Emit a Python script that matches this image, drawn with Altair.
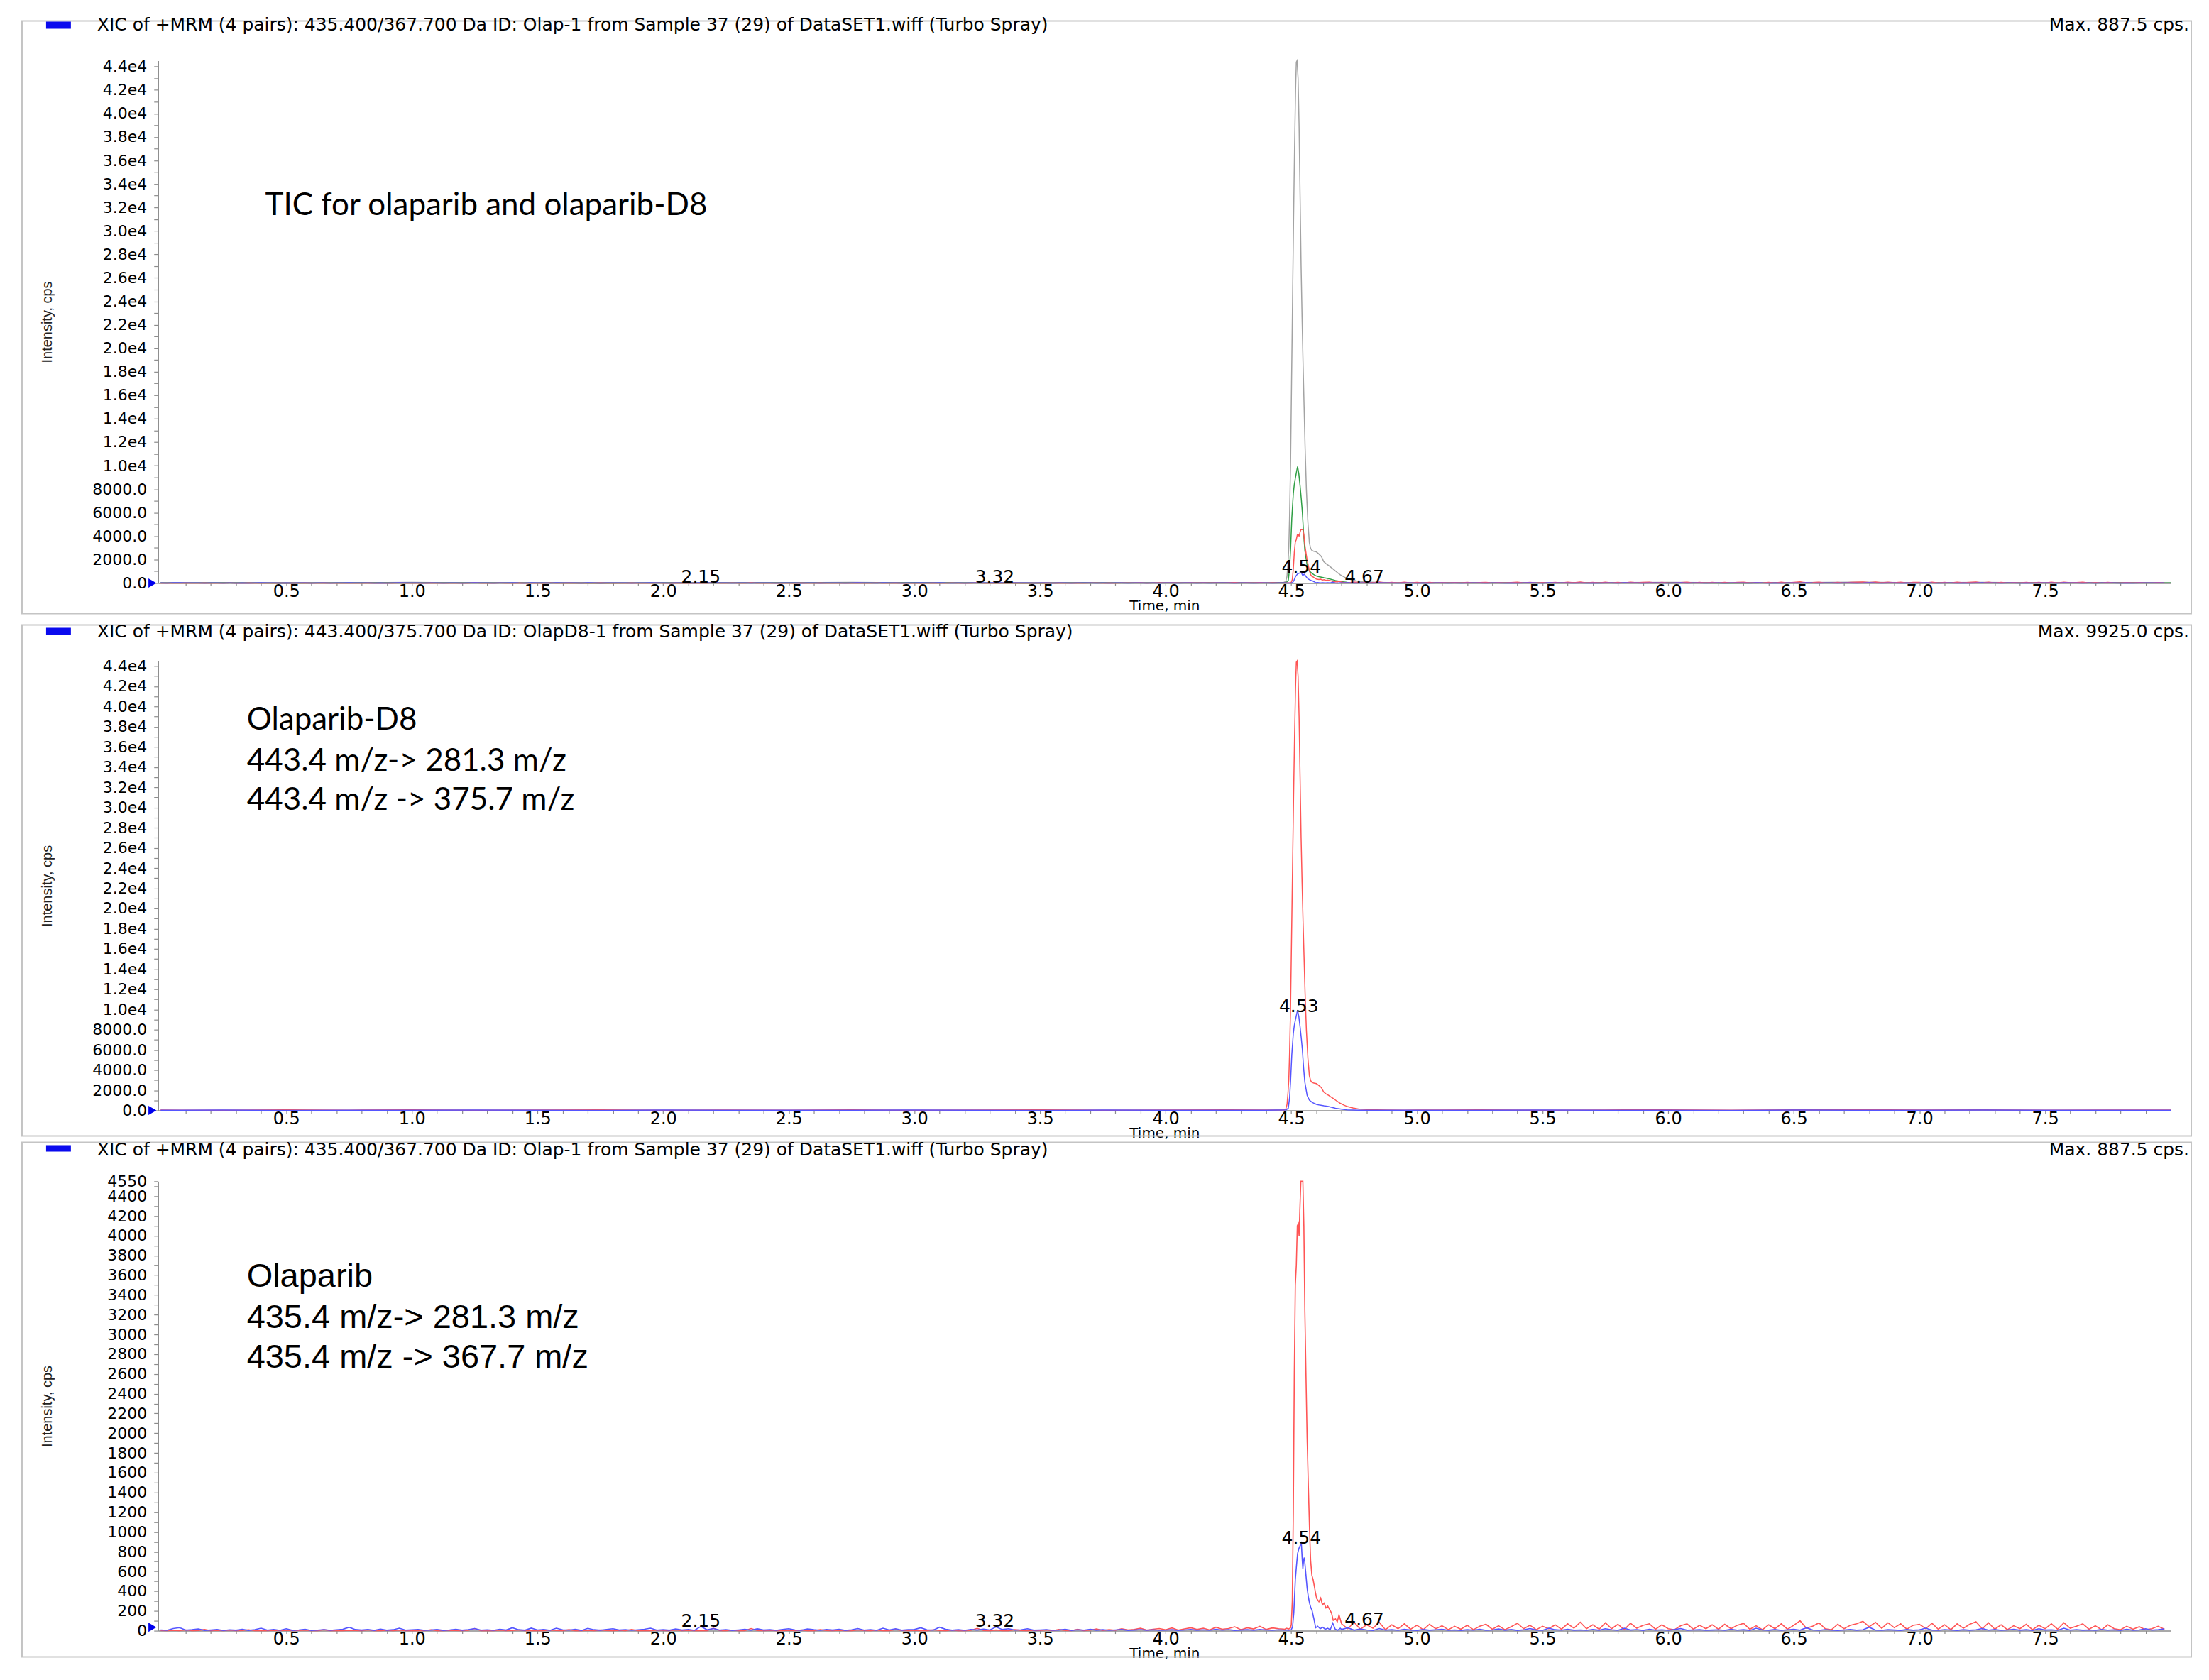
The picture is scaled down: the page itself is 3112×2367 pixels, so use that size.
import altair as alt
import pandas as pd

# ---------------- data ----------------
# 435.4 -> 367.7 (olaparib, blue in panel 3) : noise 0.000..4.475 every 0.025 min
olap367_pre = [
    8, 4, 22, 31, 6, 10, 18, 3, 7, 12, 2, 9, 5, 14, 3, 11, 25, 6, 13, 4,
    20, 3, 8, 15, 2, 6, 11, 4, 9, 14, 35, 12, 7, 12, 3, 16, 5, 10, 25, 6,
    9, 13, 4, 7, 12, 3, 8, 15, 5, 11, 22, 6, 9, 4, 14, 7, 30, 10, 5, 26,
    8, 12, 4, 25, 9, 6, 14, 3, 24, 10, 5, 13, 20, 7, 11, 4, 9, 15, 25, 6,
    10, 5, 18, 7, 12, 4, 43, 9, 22, 6, 11, 3, 8, 14, 5, 19, 7, 10, 4, 13,
    20, 8, 5, 18, 10, 4, 12, 7, 15, 3, 9, 22, 6, 11, 4, 25, 8, 20, 5, 10,
    12, 30, 9, 6, 35, 14, 5, 10, 4, 13, 7, 16, 8, 38, 12, 20, 6, 9, 20, 5,
    8, 11, 4, 7, 15, 3, 9, 6, 14, 5, 10, 4, 8, 12, 3, 7, 11, 5, 9, 4,
    6, 10, 3, 8, 12, 5, 9, 4, 14, 6, 11, 3, 7, 10, 5, 12, 8, 4, 9, 6,
]
olap367_peak_t = [4.480, 4.490, 4.500, 4.505, 4.510, 4.516, 4.520, 4.525, 4.530, 4.535, 4.540,
                  4.544, 4.546, 4.549, 4.552, 4.557, 4.563, 4.568, 4.573, 4.578, 4.582, 4.590,
                  4.597, 4.605, 4.615, 4.625, 4.635, 4.645, 4.655, 4.665, 4.675, 4.685, 4.695]
olap367_peak_v = [8, 5, 10, 40, 180, 516, 640, 780, 830, 860, 886,
                  700, 630, 720, 740, 600, 430, 340, 276, 230, 212, 120,
                  30, 45, 20, 35, 15, 25, 10, 76, 15, 5, 25]
# noise 4.700..7.975 every 0.025 min
olap367_post = [
    12, 30, 5, 18, 8, 3, 22, 6, 10, 4, 15, 7, 3, 12, 5, 9, 14, 4, 8, 3,
    10, 6, 15, 4, 8, 18, 5, 12, 3, 9, 22, 7, 4, 25, 10, 6, 14, 5, 8, 4,
    12, 5, 20, 9, 4, 25, 7, 11, 3, 15, 6, 9, 4, 12, 22, 5, 8, 10, 4, 7,
    9, 4, 14, 6, 10, 3, 25, 8, 5, 12, 4, 9, 15, 5, 30, 8, 4, 11, 6, 3,
    8, 12, 5, 9, 35, 6, 4, 10, 7, 3, 12, 5, 9, 25, 6, 4, 11, 8, 3, 10,
    5, 9, 22, 6, 12, 4, 8, 15, 5, 10, 3, 20, 7, 9, 4, 25, 6, 11, 5, 8,
    4, 12, 6, 9, 3, 15, 5, 8, 20, 6, 10, 18,
]

# 435.4 -> 281.3 (olaparib, red in panel 3)
olap281_pre = [
    2, 0, 5, 1, 8, 0, 3, 12, 0, 4, 1, 6, 0, 2, 9, 0, 3, 1, 5, 0,
    4, 0, 2, 7, 0, 1, 10, 0, 3, 0, 5, 2, 0, 8, 1, 0, 4, 0, 6, 1,
    0, 3, 0, 9, 1, 0, 5, 2, 0, 4, 22, 0, 3, 1, 6, 0, 2, 8, 0, 3,
    1, 0, 6, 2, 0, 10, 1, 0, 4, 0, 7, 2, 0, 5, 1, 12, 0, 3, 0, 6,
    2, 0, 8, 1, 4, 0, 3, 0, 25, 2, 0, 6, 1, 0, 22, 3, 0, 5, 1, 0,
    4, 0, 7, 1, 0, 10, 2, 0, 5, 1, 0, 8, 3, 0, 6, 1, 0, 12, 2, 0,
    5, 1, 0, 9, 2, 0, 6, 1, 0, 4, 24, 2, 0, 7, 1, 0, 10, 3, 0, 5,
    2, 8, 0, 12, 3, 1, 15, 0, 6, 18, 2, 10, 4, 20, 7, 12, 25, 5, 15, 22,
    10, 28, 6, 18, 30, 12, 25, 8, 35, 15, 22, 40, 10, 30, 18, 45, 12, 28, 20, 15,
]
olap281_peak_t = [4.480, 4.490, 4.497, 4.500, 4.504, 4.508, 4.512, 4.516, 4.520, 4.524, 4.528,
                  4.531, 4.534, 4.538, 4.541, 4.546, 4.550, 4.554, 4.559, 4.563, 4.568, 4.573,
                  4.577, 4.582, 4.587, 4.596, 4.601, 4.610, 4.617, 4.624, 4.631, 4.638, 4.645,
                  4.653, 4.660, 4.667, 4.676, 4.683, 4.690]
olap281_peak_v = [25, 18, 30, 60, 300, 1200, 2600, 3500, 3700, 4100, 4120,
                  4000, 4250, 4550, 4550, 4550, 4100, 3229, 2500, 1951, 1450, 995,
                  708, 560, 516, 389, 326, 294, 330, 262, 280, 230, 250,
                  214, 180, 105, 120, 90, 160]
olap281_post = [
    70, 20, 85, 15, 60, 25, 85, 10, 60, 20, 70, 15, 55, 10, 65, 20, 50, 10, 45, 15,
    55, 10, 45, 65, 15, 50, 10, 40, 75, 20, 55, 10, 45, 20, 60, 15, 70, 25, 85, 20,
    60, 15, 80, 20, 65, 10, 75, 25, 55, 70, 15, 60, 20, 10, 50, 70, 15, 55, 20, 60,
    15, 65, 20, 55, 75, 15, 50, 10, 60, 20, 70, 15, 55, 100, 25, 45, 80, 20, 10, 65,
    20, 55, 70, 95, 40, 85, 25, 80, 30, 70, 15, 55, 65, 20, 75, 15, 60, 10, 70, 25,
    65, 90, 20, 80, 15, 60, 10, 50, 20, 65, 10, 55, 20, 70, 15, 80, 25, 45, 70, 15,
    50, 10, 60, 20, 10, 45, 15, 40, 10, 20, 45, 15,
]

# 443.4 -> 281.3 (olaparib-D8, red in panel 2, grey in panel 1): baseline every 0.25 min
d8_281_pre = [30, 10, 45, 20, 60, 15, 35, 50, 10, 40, 25, 55, 15, 30, 45, 20, 35, 50]
d8_281_peak_t = [4.40, 4.470, 4.478, 4.483, 4.487, 4.490, 4.493, 4.497, 4.501, 4.505,
                 4.509, 4.513, 4.517, 4.520, 4.523, 4.527, 4.531, 4.535, 4.539, 4.543,
                 4.547, 4.551, 4.555, 4.560, 4.566, 4.572, 4.577, 4.582, 4.590, 4.600,
                 4.610, 4.620, 4.629, 4.638, 4.648, 4.657, 4.667, 4.680, 4.695, 4.710,
                 4.723, 4.745, 4.770, 4.800, 4.840, 4.880, 4.950]
d8_281_peak_v = [30, 60, 120, 600, 1800, 3000, 5500, 10000, 17000, 24000,
                 31000, 37000, 42000, 44380, 44500, 43000, 39000, 33000, 27000, 22500,
                 18500, 15000, 11500, 8000, 5200, 3440, 2950, 2790, 2700, 2650,
                 2470, 2250, 1820, 1650, 1500, 1350, 1180, 950, 700, 520,
                 380, 250, 120, 90, 60, 40, 20]
d8_281_post = [30, 50, 15, 40, 60, 25, 45, 70, 30, 55, 20, 40, 35]

# 443.4 -> 375.7 (olaparib-D8, blue in panel 2, green in panel 1)
d8_375_pre = [15, 30, 5, 25, 10, 35, 20, 5, 30, 15, 25, 10, 40, 20, 5, 30, 15, 25]
d8_375_peak_t = [4.40, 4.480, 4.488, 4.493, 4.497, 4.502, 4.508, 4.512, 4.516, 4.521,
                 4.525, 4.530, 4.535, 4.540, 4.544, 4.549, 4.554, 4.563, 4.572, 4.582,
                 4.591, 4.600, 4.610, 4.630, 4.648, 4.676, 4.700, 4.723, 4.770, 4.820]
d8_375_peak_v = [20, 60, 217, 1200, 2790, 5500, 7620, 8400, 8910, 9500,
                 9925, 9300, 8270, 7100, 6035, 4200, 2790, 1500, 1020, 820,
                 700, 600, 540, 450, 380, 217, 120, 55, 20, 10]
d8_375_post = [20, 10, 30, 15, 25, 5, 35, 20, 10, 30, 15, 25, 10]

headers = [
    ("XIC of +MRM (4 pairs): 435.400/367.700 Da ID: Olap-1 from Sample 37 (29) of DataSET1.wiff (Turbo Spray)", "Max. 887.5 cps."),
    ("XIC of +MRM (4 pairs): 443.400/375.700 Da ID: OlapD8-1 from Sample 37 (29) of DataSET1.wiff (Turbo Spray)", "Max. 9925.0 cps."),
    ("XIC of +MRM (4 pairs): 435.400/367.700 Da ID: Olap-1 from Sample 37 (29) of DataSET1.wiff (Turbo Spray)", "Max. 887.5 cps."),
]
notes1 = [(0.416, 32145, "TIC for olaparib and olaparib-D8")]
notes2 = [(0.343, 38600, "Olaparib-D8"), (0.343, 34530, "443.4 m/z-> 281.3 m/z"),
          (0.343, 30670, "443.4 m/z -> 375.7 m/z")]
notes3 = [(0.343, 3579, "Olaparib"), (0.343, 3164, "435.4 m/z-> 281.3 m/z"),
          (0.343, 2764, "435.4 m/z -> 367.7 m/z")]
peaks1 = [(2.15, 483, "2.15"), (3.32, 483, "3.32"), (4.54, 1330, "4.54")]
peaks1_r = [(4.67, 483, "4.67")]
peaks2 = [(4.53, 10316, "4.53")]
peaks2_r = []
peaks3 = [(2.15, 100, "2.15"), (3.32, 100, "3.32"), (4.54, 936, "4.54")]
peaks3_r = [(4.67, 110, "4.67")]

x_tick_values = [round(i / 10, 1) for i in range(1, 80)]
y_ticks_big = list(range(0, 44001, 1000))
y_ticks_small = list(range(0, 4501, 100)) + [4550]


def make_series(pre, pre_t0, pre_step, peak_t, peak_v, post, post_t0, post_step):
    t = [round(pre_t0 + i * pre_step, 4) for i in range(len(pre))] + list(peak_t) + \
        [round(post_t0 + i * post_step, 4) for i in range(len(post))]
    v = list(pre) + list(peak_v) + list(post)
    rows = list(zip(t, v))
    return pd.DataFrame(rows, columns=["t", "v"])


s_olap367 = make_series(olap367_pre, 0.0, 0.025, olap367_peak_t, olap367_peak_v, olap367_post, 4.70, 0.025)
s_olap281 = make_series(olap281_pre, 0.0, 0.025, olap281_peak_t, olap281_peak_v, olap281_post, 4.70, 0.025)
s_d8_281 = make_series(d8_281_pre, 0.0, 0.25, d8_281_peak_t, d8_281_peak_v, d8_281_post, 5.0, 0.25)
s_d8_375 = make_series(d8_375_pre, 0.0, 0.25, d8_375_peak_t, d8_375_peak_v, d8_375_post, 5.0, 0.25)

GREY = "#a3a3a3"
GREEN = "#2f9e44"
RED = "#ff5555"
BLUE = "#5555ff"

W = 2839
XD = [-0.01, 8.0]
XLAB = "abs(datum.value * 2 - round(datum.value * 2)) < 0.001 ? format(datum.value, '.1f') : ''"
YLAB_BIG = ("datum.value % 2000 == 0 ? (datum.value < 10000 ? format(datum.value, '.1f') : "
            "format(datum.value / 10000, '.1f') + 'e4') : ''")
YLAB_SMALL = "(datum.value % 200 == 0 || datum.value == 4550) ? format(datum.value, 'd') : ''"

AX = "#8c8c8c"
ONE = pd.DataFrame({"k": [0]})


def panel(H, ymax, yticks, ylab, lines, lw, hdr, frame, spacer, hdr_y, sq, notes, nfont, nsize,
          peaks, peaks_r, tri_v):
    X = alt.X("t:Q", scale=alt.Scale(domain=XD, nice=False, zero=False),
              axis=alt.Axis(values=x_tick_values, labelExpr=XLAB, labelFont="DejaVu Sans",
                            labelFontSize=24, labelColor="#000", labelPadding=-4,
                            labelFlush=False, labelOverlap=False, tickSize=4, tickColor=AX,
                            tickWidth=1.2, domainColor=AX, domainWidth=1.5, grid=False,
                            title="Time, min", titleFont="DejaVu Sans", titleFontSize=20,
                            titleFontWeight="normal", titleColor="#000", titleY=32,
                            titleBaseline="middle"))
    Y = alt.Y("v:Q", scale=alt.Scale(domain=[0, ymax], nice=False, zero=True),
              axis=alt.Axis(values=yticks, labelExpr=ylab, labelFont="DejaVu Sans",
                            labelFontSize=22, labelColor="#000", labelPadding=10,
                            labelFlush=False, labelOverlap=False, tickSize=6, tickColor=AX,
                            tickWidth=1.2, domainColor=AX, domainWidth=1.5, grid=False,
                            title="Intensity, cps", titleFont="Liberation Sans",
                            titleFontSize=20, titleFontWeight="normal", titleColor="#222",
                            titleX=-156, titleY=H / 2, titleBaseline="middle"))
    layers = []
    layers.append(alt.Chart(ONE).mark_rect(opacity=0).encode(
        x=alt.value(spacer[0]), x2=alt.value(W + spacer[1]),
        y=alt.value(spacer[2]), y2=alt.value(H + spacer[3])))
    layers.append(alt.Chart(ONE).mark_rect(fillOpacity=0, stroke="#c4c4c4", strokeWidth=2).encode(
        x=alt.value(-192), x2=alt.value(W + 29),
        y=alt.value(frame[0]), y2=alt.value(H + frame[1])))
    layers.append(alt.Chart(ONE).mark_rect(color="#0a0aee").encode(
        x=alt.value(-158), x2=alt.value(-123), y=alt.value(sq[0]), y2=alt.value(sq[1])))
    layers.append(alt.Chart(ONE).mark_text(align="left", baseline="middle", font="DejaVu Sans",
                                           fontSize=25, color="#000").encode(
        x=alt.value(-86), y=alt.value(hdr_y), text=alt.value(hdr[0])))
    layers.append(alt.Chart(ONE).mark_text(align="right", baseline="middle", font="DejaVu Sans",
                                           fontSize=25, color="#000").encode(
        x=alt.value(W + 26), y=alt.value(hdr_y), text=alt.value(hdr[1])))
    for df, col in lines:
        layers.append(alt.Chart(df).mark_line(color=col, strokeWidth=lw).encode(x=X, y=Y))
    layers.append(alt.Chart(pd.DataFrame({"v": [tri_v]})).mark_point(
        shape="triangle-right", filled=True, color="#0000ee", opacity=1, size=170).encode(
        x=alt.value(-8), y=Y))
    ndf = pd.DataFrame(notes, columns=["t", "v", "label"])
    layers.append(alt.Chart(ndf).mark_text(align="left", baseline="middle", font=nfont,
                                           fontSize=nsize, color="#000").encode(
        x=X, y=Y, text="label:N"))
    pdf = pd.DataFrame(peaks, columns=["t", "v", "label"])
    layers.append(alt.Chart(pdf).mark_text(align="center", baseline="middle", font="DejaVu Sans",
                                           fontSize=25, color="#000").encode(
        x=X, y=Y, text="label:N"))
    if peaks_r:
        prdf = pd.DataFrame(peaks_r, columns=["t", "v", "label"])
        layers.append(alt.Chart(prdf).mark_text(align="left", baseline="middle", dx=15,
                                                font="DejaVu Sans", fontSize=25,
                                                color="#000").encode(
            x=X, y=Y, text="label:N"))
    return alt.layer(*layers).properties(width=W, height=H)


H1, H2, H3 = 737, 634, 634
p1 = panel(H1, 44500, y_ticks_big, YLAB_BIG,
           [(s_d8_281, GREY), (s_d8_375, GREEN), (s_olap281, RED), (s_olap367, BLUE)], 1.5,
           headers[0], frame=(-56, 43), spacer=(-200, 40, -63, 50), hdr_y=-50, sq=(-55, -45),
           notes=notes1, nfont="Lato", nsize=44, peaks=peaks1, peaks_r=peaks1_r, tri_v=0)
p2 = panel(H2, 44500, y_ticks_big, YLAB_BIG,
           [(s_d8_281, RED), (s_d8_375, BLUE)], 1.5,
           headers[1], frame=(-51, 36), spacer=(-200, 40, -58, 42.5), hdr_y=-41, sq=(-47, -37),
           notes=notes2, nfont="Lato", nsize=44, peaks=peaks2, peaks_r=peaks2_r, tri_v=0)
p3 = panel(H3, 4550, y_ticks_small, YLAB_SMALL,
           [(s_olap281, RED), (s_olap367, BLUE)], 1.6,
           headers[2], frame=(-55, 37), spacer=(-200, 40, -56.5, 50), hdr_y=-44, sq=(-51, -42),
           notes=notes3, nfont="Liberation Sans", nsize=47, peaks=peaks3, peaks_r=peaks3_r, tri_v=35)

chart = alt.vconcat(p1, p2, p3, spacing=0).properties(
    padding={"left": 14, "top": 12, "right": 5, "bottom": 5},
    background="#ffffff",
).configure_view(stroke="transparent")

chart.save("out.html", embed_options={"renderer": "svg", "actions": False})
